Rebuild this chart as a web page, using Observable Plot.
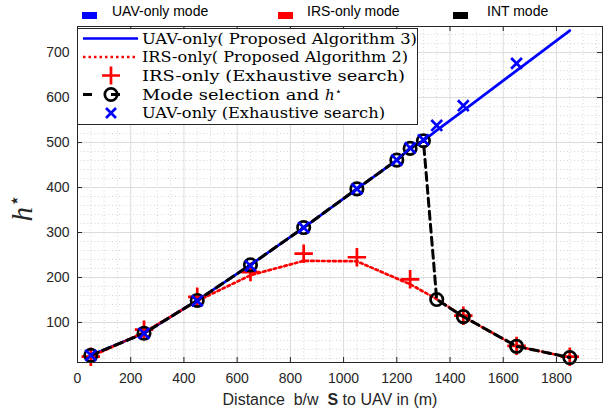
<!DOCTYPE html>
<html><head><meta charset="utf-8">
<script src="https://cdn.jsdelivr.net/npm/d3@7"></script>
<script src="https://cdn.jsdelivr.net/npm/@observablehq/plot@0.6"></script>
<style>
body{margin:0;background:#fff;}
#top{position:relative;height:20px;width:603px;font-family:"Liberation Sans",Arial,sans-serif;font-size:14px;color:#000;}
.sw{position:absolute;top:12px;width:15px;height:7px;}
.lt{position:absolute;top:3px;line-height:16px;white-space:nowrap;}
#chart svg{display:block;}
</style></head><body>
<div id="top"></div>
<div id="chart"></div>
<script>
// ---- data ----
const distance   = [50,250,450,650,850,1050,1200,1250,1300,1350,1450,1650,1850];
const uavAlg     = [27,76,149,228,311,397,461,487,504,527,571,660,749];
const modeSel    = [27,76,149,228,311,397,461,487,504,151,113,47,22];
const irsAlgDist = [50,250,450,650,850,1050,1250,1350,1450,1650,1850];
const irsAlg     = [24,78,148,205,237,236,185,152,113,47,22];
const irsExhDist = [50,250,450,650,850,1050,1250,1450,1650,1850];
const irsExh     = [24,84,157,212,253,245,196,115,48,24];
const uavExhDist = [50,250,450,650,850,1050,1200,1250,1300,1350,1450,1650];
const uavExh     = [27,76,148,226,311,397,461,488,506,538,582,676];
const xTicks = [0,200,400,600,800,1000,1200,1400,1600,1800];
const yTicks = [100,200,300,400,500,600,700];
const modeNames  = ["UAV-only mode","IRS-only mode","INT mode"];
const modeColors = ["#0000ff","#ff0000","#000000"];
const legendLabels = ["UAV-only( Proposed Algorithm 3)","IRS-only( Proposed Algorithm 2)","IRS-only (Exhaustive search)","Mode selection and ","UAV-only (Exhaustive search)"];

// ---- top legend (HTML) ----
const topDiv = document.getElementById("top");
const swX = [82,278,453], txX = [112,307,487];
modeNames.forEach((n,i)=>{
  const s=document.createElement("div");s.className="sw";s.style.left=swX[i]+"px";s.style.background=modeColors[i];topDiv.appendChild(s);
  const t=document.createElement("div");t.className="lt";t.style.left=txX[i]+"px";t.textContent=n;topDiv.appendChild(t);
});

// ---- chart ----
const W=603,H=391,mL=77,mR=1,mT=6,mB=49;
const xDomain=[0,1973], yDomain=[11,758];
const uPerPxX=(xDomain[1]-xDomain[0])/(W-mL-mR);
const uPerPxY=(yDomain[1]-yDomain[0])/(H-mT-mB);
const tlx=5*uPerPxX, tly=5*uPerPxY;
const minorX=d3.range(50,xDomain[1],50).filter(v=>v%200!==0);
const minorY=d3.range(20,yDomain[1],20).filter(v=>v%100!==0);
const uavData=distance.map((d,i)=>({x:d,y:uavAlg[i]}));
const modeData=distance.map((d,i)=>({x:d,y:modeSel[i]}));
const irsAlgData=irsAlgDist.map((d,i)=>({x:d,y:irsAlg[i]}));
const irsExhData=irsExhDist.map((d,i)=>({x:d,y:irsExh[i]}));
const uavExhData=uavExhDist.map((d,i)=>({x:d,y:uavExh[i]}));
const axc="#262626";
const plot=Plot.plot({
  width:W,height:H,marginLeft:mL,marginRight:mR,marginTop:mT,marginBottom:mB,
  style:{fontFamily:"'Liberation Sans',Arial,sans-serif",fontSize:"14px",color:axc,background:"white"},
  x:{domain:xDomain},
  y:{domain:yDomain},
  marks:[
    Plot.ruleX(minorX,{stroke:"#888",strokeOpacity:0.45,strokeDasharray:"1,2.5",strokeWidth:0.8}),
    Plot.ruleY(minorY,{stroke:"#888",strokeOpacity:0.45,strokeDasharray:"1,2.5",strokeWidth:0.8}),
    Plot.ruleX(xTicks,{stroke:"#dcdcdc",strokeWidth:1}),
    Plot.ruleY(yTicks,{stroke:"#dcdcdc",strokeWidth:1}),
    Plot.ruleX(xTicks,{y1:yDomain[0],y2:yDomain[0]+tly,stroke:axc}),
    Plot.ruleX(xTicks,{y1:yDomain[1]-tly,y2:yDomain[1],stroke:axc}),
    Plot.ruleY(yTicks,{x1:xDomain[0],x2:xDomain[0]+tlx,stroke:axc}),
    Plot.ruleY(yTicks,{x1:xDomain[1]-tlx,x2:xDomain[1],stroke:axc}),
    Plot.axisX({ticks:xTicks,tickSize:0,tickPadding:11,label:null,fontSize:14,tickFormat:d=>String(d)}),
    Plot.axisY({ticks:yTicks,tickSize:0,tickPadding:8,label:null,fontSize:14,tickFormat:d=>String(d)}),
    Plot.line(uavData,{x:"x",y:"y",stroke:"#0000ff",strokeWidth:2.7}),
    Plot.line(irsAlgData,{x:"x",y:"y",stroke:"#ff0000",strokeWidth:2.7,strokeDasharray:"2.5,3"}),
    Plot.dot(irsExhData,{x:"x",y:"y",symbol:"plus",r:6,stroke:"#ff0000",strokeWidth:2.7}),
    Plot.line(modeData,{x:"x",y:"y",stroke:"black",strokeWidth:3,strokeDasharray:"8,5"}),
    Plot.dot(modeData,{x:"x",y:"y",symbol:"circle",r:6.2,stroke:"black",strokeWidth:2.7,fill:"none"}),
    Plot.dot(uavExhData,{x:"x",y:"y",symbol:"times",r:5,stroke:"#0000ff",strokeWidth:2.7}),
    Plot.frame({stroke:axc,strokeWidth:1})
  ]
});
document.getElementById("chart").appendChild(plot);
const svg=d3.select(plot);

// axis titles
const xl=svg.append("text").attr("x",330).attr("y",385).attr("text-anchor","middle")
  .attr("fill",axc).style("font-family","'Liberation Sans',Arial,sans-serif").style("font-size","16px").style("white-space","pre");
xl.append("tspan").text("Distance  b/w  ");
xl.append("tspan").attr("font-weight","bold").text("S");
xl.append("tspan").text(" to UAV in (m)");
const yl=svg.append("text").attr("transform","translate(32,188) rotate(-90)").attr("text-anchor","middle")
  .attr("fill",axc).style("font-family","'Liberation Serif',serif").style("font-size","29px");
yl.append("tspan").attr("font-style","italic").text("h");
yl.append("tspan").attr("dy","-11").style("font-size","20px").style("font-family","'DejaVu Sans'").text("\u22C6");

// inner legend
const lg=svg.append("g").attr("text-anchor","start");
lg.append("rect").attr("x",77.5).attr("y",8.5).attr("width",340).attr("height",96).attr("fill","white").attr("stroke",axc).attr("stroke-width",1);
const rows=[18.5,37,55.5,74.5,93];
const tl=[275,266,263,206,243];
const x0=83,x1=138,xc=111;
lg.append("line").attr("x1",x0).attr("x2",x1).attr("y1",rows[0]).attr("y2",rows[0]).attr("stroke","#0000ff").attr("stroke-width",2.5);
lg.append("line").attr("x1",x0).attr("x2",x1).attr("y1",rows[1]).attr("y2",rows[1]).attr("stroke","#ff0000").attr("stroke-width",2.5).attr("stroke-dasharray","2.5,3");
lg.append("path").attr("d",`M${xc-9},${rows[2]}H${xc+9}M${xc},${rows[2]-9}V${rows[2]+9}`).attr("stroke","#ff0000").attr("stroke-width",2.7);
lg.append("line").attr("x1",x0).attr("x2",x1).attr("y1",rows[3]).attr("y2",rows[3]).attr("stroke","black").attr("stroke-width",3).attr("stroke-dasharray","9,19");
lg.append("circle").attr("cx",xc).attr("cy",rows[3]).attr("r",6.2).attr("fill","none").attr("stroke","black").attr("stroke-width",2.7);
lg.append("path").attr("d",`M${xc-5},${rows[4]-5}L${xc+5},${rows[4]+5}M${xc-5},${rows[4]+5}L${xc+5},${rows[4]-5}`).attr("stroke","#0000ff").attr("stroke-width",2.7);
legendLabels.forEach((t,i)=>{
  const tx=lg.append("text").attr("x",142).attr("y",rows[i]).attr("dy","0.36em").attr("fill","black").attr("text-anchor","start")
    .style("font-family","'DejaVu Serif',serif").style("font-size","14px");
  if(i===3){
    tx.append("tspan").attr("textLength",183).attr("lengthAdjust","spacingAndGlyphs").text(t);
    tx.append("tspan").attr("font-style","italic").style("font-size","15px").text("h");
    tx.append("tspan").attr("dy","-5").style("font-size","11px").text("\u22C6");
  } else {
    tx.append("tspan").text(t);
    tx.attr("textLength",tl[i]).attr("lengthAdjust","spacingAndGlyphs");
  }
});
</script>
</body></html>
